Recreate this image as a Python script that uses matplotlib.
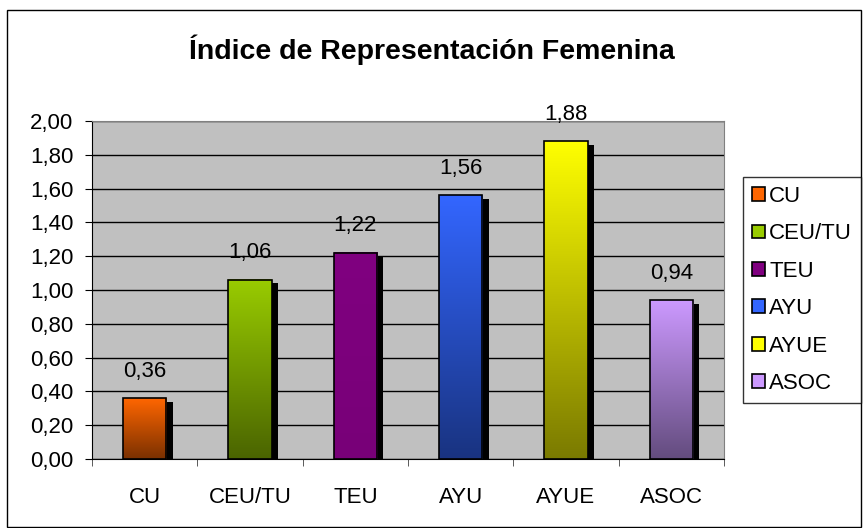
import matplotlib
matplotlib.use("Agg")
import matplotlib.pyplot as plt
import matplotlib.transforms as mtransforms
import numpy as np
from matplotlib.colors import LinearSegmentedColormap
from matplotlib.patches import Rectangle

categorias = ["CU", "CEU/TU", "TEU", "AYU", "AYUE", "ASOC"]
valores = [0.36, 1.06, 1.22, 1.56, 1.88, 0.94]
etiquetas = ["0,36", "1,06", "1,22", "1,56", "1,88", "0,94"]
y_ticks = [0.0, 0.2, 0.4, 0.6, 0.8, 1.0, 1.2, 1.4, 1.6, 1.8, 2.0]
y_labels = ["0,00", "0,20", "0,40", "0,60", "0,80", "1,00", "1,20", "1,40", "1,60", "1,80", "2,00"]
# degradado de cada barra: color arriba, color abajo
color_arriba = ["#FF6600", "#99CC00", "#800080", "#3366FF", "#FFFF00", "#CC99FF"]
color_abajo = ["#7A3000", "#4A6400", "#780078", "#193380", "#7A7A00", "#634C7E"]

plt.rcParams["font.family"] = ["Liberation Sans", "DejaVu Sans"]

W, H = 863, 528
fig = plt.figure(figsize=(W / 100, H / 100), dpi=100)
fig.patch.set_facecolor("white")

# marco exterior del gráfico
fig.patches.append(Rectangle((7 / W, 1 / H), 854 / W, 517 / H, transform=fig.transFigure,
                             fill=False, edgecolor="black", lw=1.0))

ax = fig.add_axes([92 / W, (H - 459) / H, 632 / W, 338 / H])
ax.set_facecolor("#C0C0C0")
x = np.arange(len(categorias))
ancho = 0.41

# sombra negra desplazada
sombra = mtransforms.ScaledTranslation(6.5 / 100, -3.5 / 100, fig.dpi_scale_trans)
ax.bar(x, valores, width=ancho, color="black", zorder=2, transform=ax.transData + sombra)

grad = np.linspace(0, 1, 256).reshape(-1, 1)
for xi, v, c1, c2, txt in zip(x, valores, color_arriba, color_abajo, etiquetas):
    cmap = LinearSegmentedColormap.from_list("g", [c2, c1])
    ax.imshow(grad, cmap=cmap, origin="lower", aspect="auto", zorder=3,
              extent=(xi - ancho / 2, xi + ancho / 2, 0, v))
    ax.add_patch(Rectangle((xi - ancho / 2, 0), ancho, v, fill=False,
                           edgecolor="black", lw=1.2, zorder=4))
    ax.text(xi, v + 0.16, txt, ha="center", va="center", fontsize=16, zorder=5)

ax.set_xlim(-0.5, len(categorias) - 0.5)
ax.set_ylim(0, 2.0)
ax.set_yticks(y_ticks)
ax.set_yticklabels(y_labels, fontsize=16)
ax.set_xticks(x)
ax.set_xticklabels(categorias, fontsize=16)
ax.set_xticks(np.arange(-0.5, len(categorias)), minor=True)
ax.tick_params(axis="x", which="major", length=0, pad=20)
ax.tick_params(axis="x", which="minor", length=5, direction="out", color="#404040")
ax.tick_params(axis="y", length=5, direction="out", pad=8.5)
ax.yaxis.grid(True, color="black", lw=1.0)
ax.set_axisbelow(True)
for lado in ["top", "right"]:
    ax.spines[lado].set_color("#808080")
for lado in ["left", "bottom"]:
    ax.spines[lado].set_color("black")

fig.text(0.5, 1 - 50 / H, "Índice de Representación Femenina", ha="center", va="center",
         fontsize=20.5, fontweight="bold")

handles = [Rectangle((0, 0), 1, 1, facecolor=c, edgecolor="black", lw=1.2) for c in color_arriba]
ley = fig.legend(handles, categorias, loc="upper left", bbox_to_anchor=(743 / W, 1 - 177 / H),
                 fontsize=16, frameon=True, fancybox=False, handlelength=0.58, handleheight=0.58,
                 handletextpad=0.2, labelspacing=0.74, borderpad=0.4, borderaxespad=0)
ley.get_frame().set_edgecolor("black")
ley.get_frame().set_linewidth(1.0)

fig.savefig("out.png", dpi=100)
